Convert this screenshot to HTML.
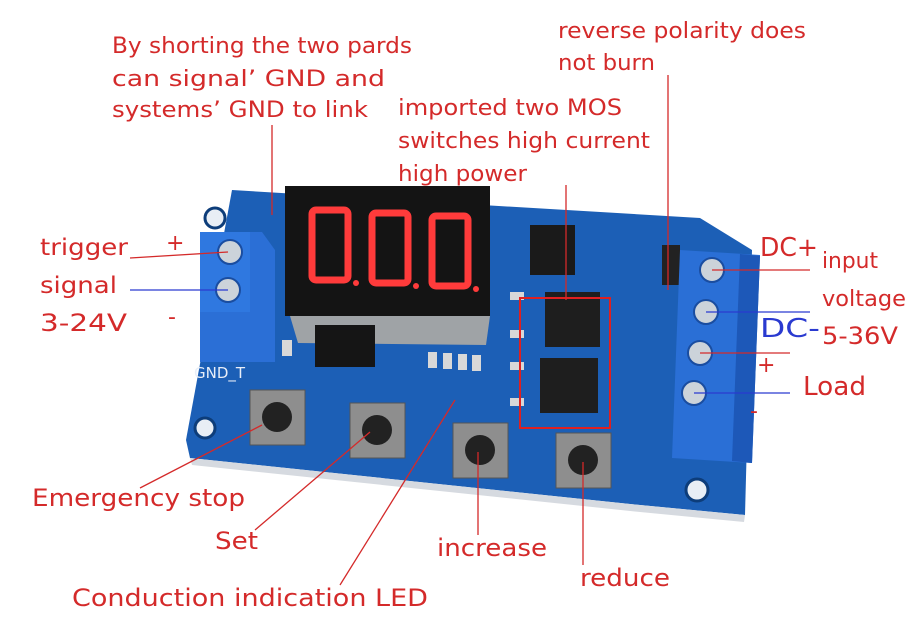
<!DOCTYPE html>
<html><head><meta charset="utf-8"><style>
html,body{margin:0;padding:0;background:#fff;}
body{width:920px;height:618px;overflow:hidden;}
svg{display:block}
text{font-family:"DejaVu Sans","Liberation Sans",sans-serif;}
</style></head><body>
<svg width="920" height="618" viewBox="0 0 920 618">
<!-- board -->
<polygon points="232,190 700,218 752,250 745,515 640,505 190,458 186,440" fill="#1c5fb6"/>
<polygon points="190,458 640,505 745,515 744,522 640,512 192,465" fill="#d6dae0"/>
<circle cx="215" cy="218" r="10" fill="#e8eef5" stroke="#0d3d7a" stroke-width="3"/>
<circle cx="205" cy="428" r="10" fill="#e8eef5" stroke="#0d3d7a" stroke-width="3"/>
<circle cx="697" cy="490" r="11" fill="#e8eef5" stroke="#0d3d7a" stroke-width="3"/>
<!-- small parts -->
<g fill="#d8d8d8"><rect x="282" y="340" width="10" height="16"/><rect x="428" y="352" width="9" height="16"/><rect x="443" y="353" width="9" height="16"/><rect x="458" y="354" width="9" height="16"/><rect x="472" y="355" width="9" height="16"/><rect x="510" y="292" width="14" height="8"/><rect x="510" y="330" width="14" height="8"/><rect x="510" y="362" width="14" height="8"/><rect x="510" y="398" width="14" height="8"/></g>
<!-- left terminal -->
<polygon points="200,232 262,232 275,250 275,362 200,362" fill="#2b6fd6"/>
<rect x="200" y="232" width="50" height="80" fill="#2f78e0"/>
<circle cx="230" cy="252" r="12" fill="#ccd3da" stroke="#1a4da0" stroke-width="2"/>
<circle cx="228" cy="290" r="12" fill="#ccd3da" stroke="#1a4da0" stroke-width="2"/>
<text x="194" y="378" font-size="15" fill="#e8eef8">GND_T</text>
<!-- display -->
<rect x="285" y="186" width="205" height="130" fill="#141414"/>
<polygon points="290,316 490,316 486,345 298,343" fill="#9fa3a6"/>
<g fill="none" stroke="#ff3b3b" stroke-width="7" stroke-linejoin="round">
<rect x="312" y="210" width="36" height="70" rx="4"/>
<rect x="372" y="213" width="36" height="70" rx="4"/>
<rect x="432" y="216" width="36" height="70" rx="4"/>
</g>
<g fill="#ff3b3b"><circle cx="356" cy="283" r="3"/><circle cx="416" cy="286" r="3"/><circle cx="476" cy="289" r="3"/></g>
<!-- chips -->
<rect x="315" y="325" width="60" height="42" fill="#151515"/>
<rect x="530" y="225" width="45" height="50" fill="#1a1a1a"/>
<rect x="545" y="292" width="55" height="55" fill="#1e1e1e"/>
<rect x="540" y="358" width="58" height="55" fill="#1e1e1e"/>
<rect x="520" y="298" width="90" height="130" fill="none" stroke="#e02020" stroke-width="2"/>
<rect x="662" y="245" width="18" height="40" fill="#222"/>
<!-- right terminal -->
<polygon points="680,250 760,255 752,463 672,458" fill="#2a6fd6"/>
<polygon points="740,254 760,256 752,463 732,461" fill="#1d58b8"/>
<g fill="#ccd3da" stroke="#1a4da0" stroke-width="2">
<circle cx="712" cy="270" r="12"/><circle cx="706" cy="312" r="12"/><circle cx="700" cy="353" r="12"/><circle cx="694" cy="393" r="12"/></g>
<!-- buttons -->
<g>
<rect x="250" y="390" width="55" height="55" fill="#8e8e8e" stroke="#555"/><circle cx="277" cy="417" r="15" fill="#222"/>
<rect x="350" y="403" width="55" height="55" fill="#8e8e8e" stroke="#555"/><circle cx="377" cy="430" r="15" fill="#222"/>
<rect x="453" y="423" width="55" height="55" fill="#8e8e8e" stroke="#555"/><circle cx="480" cy="450" r="15" fill="#222"/>
<rect x="556" y="433" width="55" height="55" fill="#8e8e8e" stroke="#555"/><circle cx="583" cy="460" r="15" fill="#222"/>
</g>
<!-- lines -->
<g stroke="#d42a2a" stroke-width="1.3" fill="none">
<line x1="272" y1="125" x2="272" y2="215"/>
<line x1="566" y1="185" x2="566" y2="300"/>
<line x1="668" y1="75" x2="668" y2="290"/>
<line x1="130" y1="258" x2="228" y2="252"/>
<line x1="712" y1="270" x2="810" y2="270"/>
<line x1="700" y1="353" x2="790" y2="353"/>
<line x1="140" y1="488" x2="262" y2="425"/>
<line x1="255" y1="530" x2="370" y2="432"/>
<line x1="478" y1="535" x2="478" y2="452"/>
<line x1="340" y1="585" x2="455" y2="400"/>
<line x1="583" y1="565" x2="583" y2="462"/>
</g>
<g stroke="#2a3ad0" stroke-width="1.3">
<line x1="130" y1="290" x2="228" y2="290"/>
<line x1="706" y1="312" x2="810" y2="312"/>
<line x1="694" y1="393" x2="790" y2="393"/>
</g>
<!-- labels -->
<g fill="#d42a2a" font-size="22" lengthAdjust="spacingAndGlyphs">
<text x="112" y="53" textLength="300" lengthAdjust="spacingAndGlyphs">By shorting the two pards</text>
<text x="112" y="86" textLength="273" lengthAdjust="spacingAndGlyphs">can signal’ GND and</text>
<text x="112" y="117" textLength="256" lengthAdjust="spacingAndGlyphs">systems’ GND to link</text>
<text x="558" y="38" textLength="248" lengthAdjust="spacingAndGlyphs">reverse polarity does</text>
<text x="558" y="70" textLength="97" lengthAdjust="spacingAndGlyphs">not burn</text>
<text x="398" y="115" textLength="224" lengthAdjust="spacingAndGlyphs">imported two MOS</text>
<text x="398" y="148" textLength="252" lengthAdjust="spacingAndGlyphs">switches high current</text>
<text x="398" y="181" textLength="129" lengthAdjust="spacingAndGlyphs">high power</text>
<text x="40" y="255" font-size="23" textLength="88" lengthAdjust="spacingAndGlyphs">trigger</text>
<text x="40" y="293" font-size="23" textLength="77" lengthAdjust="spacingAndGlyphs">signal</text>
<text x="40" y="331" font-size="24" textLength="87" lengthAdjust="spacingAndGlyphs">3-24V</text>
<text x="166" y="250">+</text>
<text x="168" y="324">-</text>
<text x="760" y="256" font-size="26" textLength="58" lengthAdjust="spacingAndGlyphs">DC+</text>
<text x="822" y="268" textLength="56" lengthAdjust="spacingAndGlyphs">input</text>
<text x="822" y="306" textLength="84" lengthAdjust="spacingAndGlyphs">voltage</text>
<text x="822" y="344" font-size="24" textLength="76" lengthAdjust="spacingAndGlyphs">5-36V</text>
<text x="757" y="372">+</text>
<text x="803" y="395" font-size="26" textLength="63" lengthAdjust="spacingAndGlyphs">Load</text>
<text x="750" y="418">-</text>
<text x="32" y="506" font-size="24" textLength="213" lengthAdjust="spacingAndGlyphs">Emergency stop</text>
<text x="215" y="549" font-size="24" textLength="43" lengthAdjust="spacingAndGlyphs">Set</text>
<text x="437" y="556" font-size="24" textLength="110" lengthAdjust="spacingAndGlyphs">increase</text>
<text x="72" y="606" font-size="24" textLength="356" lengthAdjust="spacingAndGlyphs">Conduction indication LED</text>
<text x="580" y="586" font-size="24" textLength="90" lengthAdjust="spacingAndGlyphs">reduce</text>
</g>
<text x="760" y="337" font-size="26" fill="#2a3ad0" textLength="60" lengthAdjust="spacingAndGlyphs">DC-</text>
</svg>
</body></html>
